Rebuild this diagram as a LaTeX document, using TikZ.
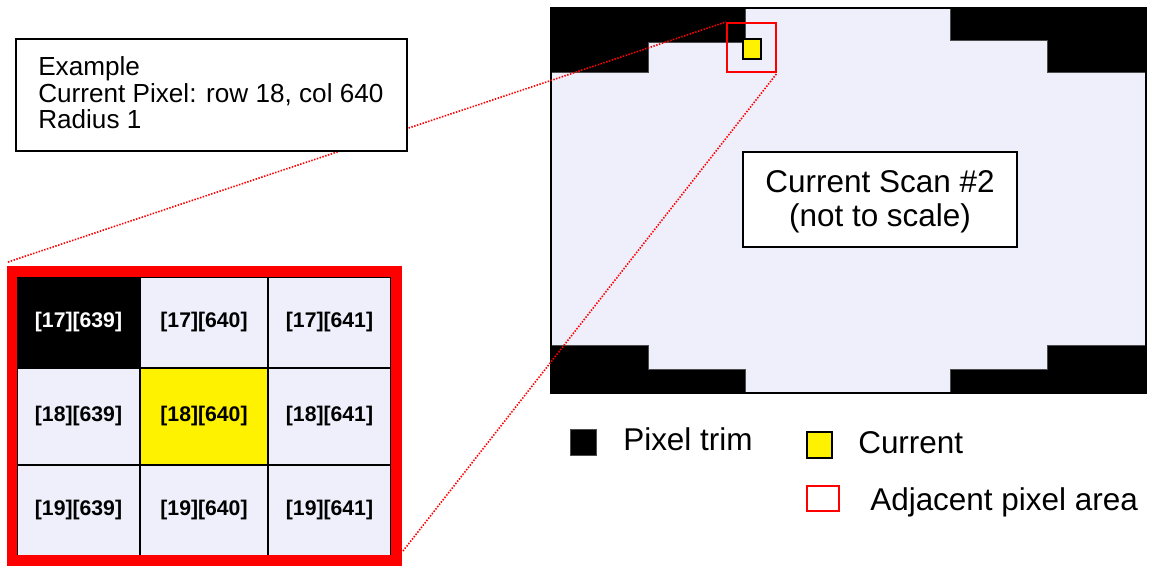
\documentclass[tikz,border=0pt]{standalone}
\usepackage{fontspec}
\setmainfont{Liberation Sans}
\usetikzlibrary{fit}
\definecolor{lav}{RGB}{239,239,251}
\begin{document}
\begin{tikzpicture}[x=0.75pt,y=-0.75pt,
  plainbox/.style={draw=black, line width=1.2pt, fill=white, inner sep=0pt},
  cell/.style={draw=black, line width=1.1pt, fill=lav, inner sep=0pt},
  celltxt/.style={inner sep=0pt, font=\fontsize{15.9}{18}\selectfont\bfseries},
  trim/.style={fill=black, draw=black!70, line width=0.4pt},
  dotline/.style={red, line width=1.2pt, dash pattern=on 1.1pt off 1.1pt},
  txt/.style={inner sep=0pt, anchor=base west},
  big/.style={font=\fontsize{23.6}{27}\selectfont},
  mid/.style={font=\fontsize{19.6}{23}\selectfont}]
\useasboundingbox (0,0) rectangle (1151,565);

% scan area
\fill[lav] (551,8) rectangle (1146,393);
\filldraw[trim] (551,8) -- (745,8) -- (745,42) -- (648,42) -- (648,72) -- (551,72) -- cycle;
\filldraw[trim] (950,8) -- (1146,8) -- (1146,72) -- (1047,72) -- (1047,40) -- (950,40) -- cycle;
\filldraw[trim] (551,345) -- (648,345) -- (648,369) -- (745,369) -- (745,393) -- (551,393) -- cycle;
\filldraw[trim] (1146,345) -- (1047,345) -- (1047,369) -- (950,369) -- (950,393) -- (1146,393) -- cycle;
\node[fit={(551,8)(1146,393)}, draw=black, line width=1.5pt, inner sep=0pt] (scan) {};

\node[fit={(743,39)(761,59)}, draw=black, line width=1.2pt, fill=yellow, inner sep=0pt] (cur) {};
\node[fit={(727,23)(776,72)}, draw=red, line width=1.6pt, inner sep=0pt] (adj) {};

\node[plainbox, fit={(743,152)(1017,247)}] (scanbox) {};
\node[big, inner sep=0pt, anchor=base] (st1) at (880,192) {Current Scan \#2};
\node[big, inner sep=0pt, anchor=base] (st2) at (880,226) {(not to scale)};

% zoom frame corners
\coordinate (fA) at (8,262);
\coordinate (fB) at (403,551);
\draw[dotline] (fA) -- (adj.north west);
\draw[dotline] (fB) -- (adj.south east);

% example box
\node[plainbox, fit={(16,39)(407,151)}] (exbox) {};
\node[txt, mid] (ex1) at (38,75) {Example};
\node[txt, mid] (ex2) at (38,102) {Current Pixel: row 18, col 640};
\node[txt, mid] (ex3) at (38,128) {Radius 1};

% grid
\node[cell, fill=black, fit={(17,277)(140,368)}] (g11) {};
\node[cell, fit={(140,277)(268,368)}] (g12) {};
\node[cell, fit={(268,277)(391,368)}] (g13) {};
\node[cell, fit={(17,368)(140,465)}] (g21) {};
\node[cell, fill=yellow, fit={(140,368)(268,465)}] (g22) {};
\node[cell, fit={(268,368)(391,465)}] (g23) {};
\node[cell, fit={(17,465)(140,556)}] (g31) {};
\node[cell, fit={(140,465)(268,556)}] (g32) {};
\node[cell, fit={(268,465)(391,556)}] (g33) {};
\node[celltxt, text=white] (t11) at (g11.center) {[17][639]};
\node[celltxt] (t12) at (g12.center) {[17][640]};
\node[celltxt] (t13) at (g13.center) {[17][641]};
\node[celltxt] (t21) at (g21.center) {[18][639]};
\node[celltxt] (t22) at (g22.center) {[18][640]};
\node[celltxt] (t23) at (g23.center) {[18][641]};
\node[celltxt] (t31) at (g31.center) {[19][639]};
\node[celltxt] (t32) at (g32.center) {[19][640]};
\node[celltxt] (t33) at (g33.center) {[19][641]};
\node[fit={(12,271.5)(396.5,560.5)}, draw=red, line width=7.8pt, inner sep=0pt] (frame) {};

% legend
\node[fit={(570,429)(596,455)}, fill=black, draw=black!70, line width=0.6pt, inner sep=0pt] (lg1) {};
\node[txt, big] (lt1) at (623,450) {Pixel trim};
\node[fit={(807,432)(832,458)}, fill=yellow, draw=black, line width=1.2pt, inner sep=0pt] (lg2) {};
\node[txt, big] (lt2) at (858,453) {Current};
\node[fit={(807,486)(839,511)}, draw=red, line width=1.6pt, inner sep=0pt] (lg3) {};
\node[txt, big] (lt3) at (870,510) {Adjacent pixel area};
\end{tikzpicture}
\end{document}
